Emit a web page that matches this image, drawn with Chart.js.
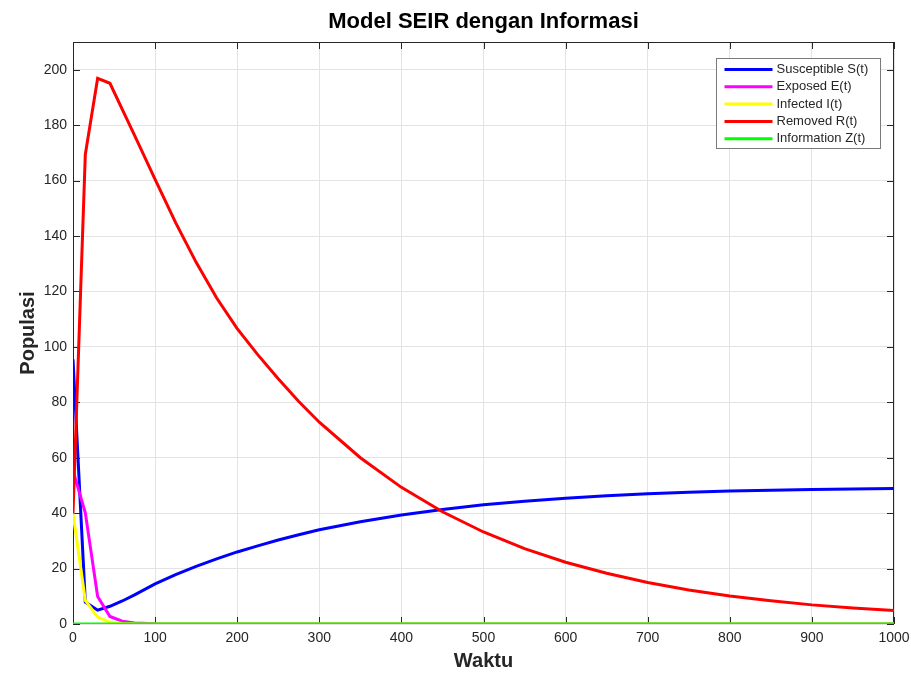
<!DOCTYPE html>
<html>
<head>
<meta charset="utf-8">
<title>Model SEIR dengan Informasi</title>
<script src="https://cdn.jsdelivr.net/npm/chart.js@4.4.1/dist/chart.umd.min.js"></script>
<style>
  html, body { margin: 0; padding: 0; background: #fff; }
  #wrap { width: 911px; height: 673px; }
</style>
</head>
<body>
<div id="wrap"><canvas id="seir" width="911" height="673"></canvas></div>
<script>
// hasil simulasi (waktu vs populasi)
const waktu = [0, 15, 30, 45, 60, 75, 100, 125, 150, 175, 200, 225, 250, 275, 300, 350, 400, 450, 500, 550, 600, 650, 700, 750, 800, 850, 900, 950, 1000];
const susceptible = [95.5, 7.9, 5.0, 6.4, 8.3, 10.5, 14.5, 17.8, 20.8, 23.5, 26.0, 28.2, 30.3, 32.2, 34.0, 36.9, 39.3, 41.3, 43.0, 44.3, 45.4, 46.3, 47.0, 47.55, 48.0, 48.3, 48.55, 48.75, 48.9];
const exposed     = [55.3, 40.1, 9.9, 2.7, 1.0, 0.4, 0.1, 0, 0, 0, 0, 0, 0, 0, 0, 0, 0, 0, 0, 0, 0, 0, 0, 0, 0, 0, 0, 0, 0];
const infected    = [39.9, 8.5, 2.5, 0.6, 0.2, 0.05, 0, 0, 0, 0, 0, 0, 0, 0, 0, 0, 0, 0, 0, 0, 0, 0, 0, 0, 0, 0, 0, 0, 0];
const removed     = [40, 169.4, 196.9, 195.1, 185.7, 176.3, 160.4, 144.8, 130.5, 117.6, 106.6, 97.2, 88.5, 80.3, 72.8, 60.0, 49.3, 40.5, 33.2, 27.2, 22.3, 18.3, 15.0, 12.3, 10.1, 8.35, 6.9, 5.8, 4.9];
const informasi   = [0, 0, 0, 0, 0, 0, 0, 0, 0, 0, 0, 0, 0, 0, 0, 0, 0, 0, 0, 0, 0, 0, 0, 0, 0, 0, 0, 0, 0];

const xTicks = [0, 100, 200, 300, 400, 500, 600, 700, 800, 900, 1000];
const yTicks = [0, 20, 40, 60, 80, 100, 120, 140, 160, 180, 200];

const judul = 'Model SEIR dengan Informasi';

const seri = [
    { label: 'Susceptible S(t)', data: susceptible, color: '#0000ff' },
    { label: 'Exposed E(t)', data: exposed, color: '#ff00ff' },
    { label: 'Infected I(t)', data: infected, color: '#ffff00' },
    { label: 'Removed R(t)', data: removed, color: '#ff0000' },
    { label: 'Information Z(t)', data: informasi, color: '#00ff00' }
];

const FONT = "'Liberation Sans', Arial, Helvetica, sans-serif";
const AXIS = '#262626';

// kotak sumbu + tick ke dalam (gaya matlab)
const kotakSumbu = {
    id: 'kotakSumbu',
    beforeDatasetsDraw(chart) {
        const { ctx, chartArea: a, scales: { x, y } } = chart;
        const len = 7;
        ctx.save();
        ctx.strokeStyle = AXIS;
        ctx.lineWidth = 1;
        ctx.beginPath();
        xTicks.forEach(v => {
            const px = Math.round(x.getPixelForValue(v)) + 0.5;
            ctx.moveTo(px, a.bottom); ctx.lineTo(px, a.bottom - len);
            ctx.moveTo(px, a.top); ctx.lineTo(px, a.top + len);
        });
        yTicks.forEach(v => {
            const py = Math.round(y.getPixelForValue(v)) + 0.5;
            ctx.moveTo(a.left, py); ctx.lineTo(a.left + len, py);
            ctx.moveTo(a.right, py); ctx.lineTo(a.right - len, py);
        });
        ctx.stroke();
        ctx.strokeRect(Math.round(a.left) + 0.5, Math.round(a.top) + 0.5,
            Math.round(a.width) - 1, Math.round(a.height) - 1);
        ctx.restore();
    },
    afterDraw(chart) {
        const { ctx, chartArea: a } = chart;
        ctx.save();

        // judul di tengah area plot
        ctx.fillStyle = '#000';
        ctx.font = 'bold 22px ' + FONT;
        ctx.textAlign = 'center';
        ctx.textBaseline = 'middle';
        ctx.fillText(judul, (a.left + a.right) / 2, 22);

        // legenda di pojok kanan atas
        const w = 164, h = 90;
        const x0 = Math.round(a.right - 14 - w) + 0.5;
        const y0 = Math.round(a.top + 16) + 0.5;
        ctx.fillStyle = '#fff';
        ctx.fillRect(x0, y0, w, h);
        ctx.strokeStyle = '#7a7a7a';
        ctx.lineWidth = 1;
        ctx.strokeRect(x0, y0, w, h);
        ctx.font = '13px ' + FONT;
        ctx.textAlign = 'left';
        chart.data.datasets.forEach((ds, i) => {
            const yy = y0 + 11 + i * 17.3;
            ctx.strokeStyle = ds.borderColor;
            ctx.lineWidth = 3;
            ctx.beginPath();
            ctx.moveTo(x0 + 8, yy);
            ctx.lineTo(x0 + 56, yy);
            ctx.stroke();
            ctx.fillStyle = AXIS;
            ctx.fillText(ds.label, x0 + 60, yy);
        });
        ctx.restore();
    }
};

const ctx = document.getElementById('seir');
const chart = new Chart(ctx, {
    type: 'line',
    data: {
        datasets: seri.map((s, i) => ({
            label: s.label,
            data: waktu.map((t, k) => ({ x: t, y: s.data[k] })),
            borderColor: s.color,
            backgroundColor: s.color,
            borderWidth: 3,
            pointRadius: 0,
            tension: 0,
            fill: false,
            order: seri.length - i
        }))
    },
    options: {
        responsive: false,
        animation: false,
        layout: { padding: { top: 42, right: 17, left: 0, bottom: 0 } },
        plugins: {
            legend: { display: false },
            tooltip: { enabled: false },
            title: { display: false }
        },
        scales: {
            x: {
                type: 'linear',
                min: 0,
                max: 1000,
                afterFit: s => { s.height = 49; s.paddingRight = 0; s.paddingLeft = 0; },
                afterBuildTicks: s => { s.ticks = xTicks.map(v => ({ value: v })); },
                grid: { color: '#e3e3e3', drawTicks: false },
                border: { display: false },
                ticks: {
                    color: AXIS, padding: 6, maxRotation: 0,
                    font: { family: FONT, size: 14 },
                    callback: v => String(v)
                },
                title: {
                    display: true,
                    text: 'Waktu',
                    color: AXIS,
                    font: { family: FONT, size: 20, weight: 'bold' },
                    padding: { top: 0, bottom: 0 }
                }
            },
            y: {
                min: 0,
                max: 210,
                afterFit: s => { s.width = 73; s.paddingTop = 0; s.paddingBottom = 0; },
                afterBuildTicks: s => { s.ticks = yTicks.map(v => ({ value: v })); },
                grid: { color: '#e3e3e3', drawTicks: false },
                border: { display: false },
                ticks: {
                    color: AXIS, padding: 6,
                    font: { family: FONT, size: 14 },
                    callback: v => String(v)
                },
                title: {
                    display: true,
                    text: 'Populasi',
                    color: AXIS,
                    font: { family: FONT, size: 20, weight: 'bold' },
                    padding: { top: 16, bottom: 0 }
                }
            }
        }
    },
    plugins: [kotakSumbu]
});
</script>
</body>
</html>
